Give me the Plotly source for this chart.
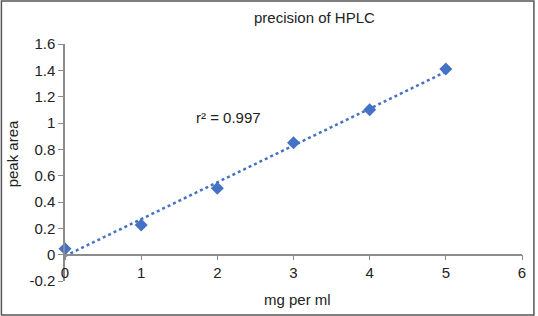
import numpy as np
import plotly.graph_objects as go

conc = [0, 1, 2, 3, 4, 5]
peak_area = [0.045, 0.226, 0.505, 0.85, 1.10, 1.41]
y_ticks = [-0.2, 0, 0.2, 0.4, 0.6, 0.8, 1, 1.2, 1.4, 1.6]
y_tick_labels = ["-0.2", "0", "0.2", "0.4", "0.6", "0.8", "1", "1.2", "1.4", "1.6"]
x_ticks = [0, 1, 2, 3, 4, 5, 6]
r2_text = "r² = 0.997"

slope, intercept = np.polyfit(conc, peak_area, 1)
fit_x = [conc[0], conc[-1]]
fit_y = [slope * v + intercept for v in fit_x]

blue = "#4472C4"
axis_col = "#8c8c8c"
font = "Liberation Sans, Arial, sans-serif"
fs = 15

fig = go.Figure()
fig.add_trace(go.Scatter(x=fit_x, y=fit_y, mode="lines",
                         line=dict(color=blue, width=2.5, dash="dot"),
                         showlegend=False, hoverinfo="skip"))
fig.add_trace(go.Scatter(x=conc, y=peak_area, mode="markers", cliponaxis=False,
                         marker=dict(symbol="diamond", size=10, color=blue),
                         showlegend=False))

L, R, T, B = 65, 13, 44, 35
W, H = 538, 316
pw, ph = W - L - R, H - T - B

fig.update_layout(
    width=W, height=H,
    margin=dict(l=L, r=R, t=T, b=B),
    paper_bgcolor="white", plot_bgcolor="white",
    font=dict(family=font, size=fs, color="#222"),
    xaxis=dict(range=[0, 6], tickvals=x_ticks, showgrid=False, zeroline=False,
               showline=True, linecolor=axis_col, linewidth=1.5,
               ticks="outside", ticklen=5, tickcolor=axis_col,
               anchor="free", position=0.2 / 1.8,
               tickfont=dict(size=fs, color="#222")),
    yaxis=dict(range=[-0.2, 1.6], tickvals=y_ticks, ticktext=y_tick_labels,
               showgrid=False, zeroline=False,
               showline=True, linecolor=axis_col, linewidth=1.5,
               ticks="outside", ticklen=5, tickcolor=axis_col,
               tickfont=dict(size=fs, color="#222")),
    annotations=[
        dict(text="precision of HPLC", xref="paper", yref="paper",
             x=(316 - L) / pw, y=(H - 17 - B) / ph, showarrow=False,
             font=dict(size=fs, color="#222"), xanchor="center", yanchor="middle"),
        dict(text="mg per ml", xref="paper", yref="paper",
             x=(299 - L) / pw, y=(H - 299 - B) / ph, showarrow=False,
             font=dict(size=fs, color="#222"), xanchor="center", yanchor="middle"),
        dict(text="peak area", xref="paper", yref="paper", textangle=-90,
             x=(12 - L) / pw, y=(H - 154 - B) / ph, showarrow=False,
             font=dict(size=fs, color="#222"), xanchor="center", yanchor="middle"),
        dict(text=r2_text, x=2.15, y=1.04, xref="x", yref="y", showarrow=False,
             font=dict(size=fs, color="#222"), xanchor="center", yanchor="middle"),
    ],
    shapes=[dict(type="rect", xref="paper", yref="paper",
                 x0=(1 - L) / pw, x1=(W - 1 - L) / pw,
                 y0=(1 - B) / ph, y1=(H - 1 - B) / ph,
                 line=dict(color="#555", width=1.5), layer="above")],
)

fig.write_html(
    "out.html",
    config={"displayModeBar": False},
    post_script="document.body.style.margin='0';"
                "document.body.style.overflow='hidden';"
                "document.documentElement.style.overflow='hidden';",
)
